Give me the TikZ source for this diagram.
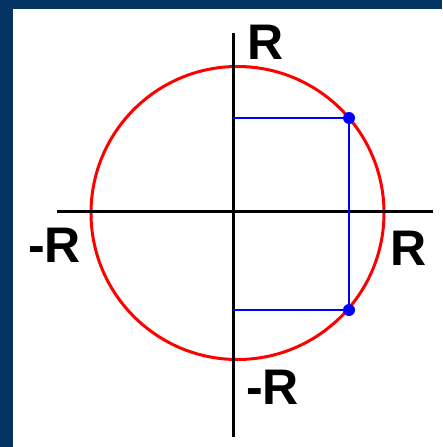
\documentclass[tikz,border=0pt]{standalone}
\usepackage{fontspec}
\setmainfont{Liberation Sans}
\usepackage{xcolor}
\usepackage{tikz}
\usetikzlibrary{positioning,calc}
\definecolor{frameblue}{RGB}{4,52,100}
\definecolor{circred}{RGB}{255,0,0}
\definecolor{projblue}{RGB}{0,0,255}

\begin{document}
\begin{tikzpicture}[x=1pt,y=-1pt,
    lbl/.style={inner sep=0pt,font=\fontsize{50}{52}\selectfont\bfseries},
    dot/.style={circle,fill=projblue,inner sep=0pt,minimum size=12pt},
    axis/.style={line width=3pt,black},
    proj/.style={projblue,line width=1.3pt}]
    % Frame
    \fill[frameblue] (0,0) rectangle (442,447);
    \fill[white] (13,9) rectangle (442,447);
    \useasboundingbox (0,0) rectangle (442,447);

    % Circle
    \coordinate (c) at (237.5,213);
    \draw[circred,line width=3pt] (c) circle (146.5pt);

    % Axes
    \coordinate (xl) at (57,211);
    \coordinate (xr) at (433,211);
    \coordinate (yt) at (233,33);
    \coordinate (yb) at (233,437);
    \draw[axis] (xl) -- (xr);
    \draw[axis] (yt) -- (yb);

    % Projections of the two points
    \coordinate (ht) at (233,118);
    \coordinate (hb) at (233,310);
    \coordinate (at) at (349,118);
    \coordinate (ab) at (349,310);
    \draw[proj] (ht) -- (at) -- (ab) -- (hb);
    \node[dot] (pt) at (at) {};
    \node[dot] (pb) at (ab) {};

    % Labels
    \node[lbl] (rtop) at (265.5,42) {R};
    \node[lbl] (rleft) at (54.5,245) {-R};
    \node[lbl] (rright) at (409,248) {R};
    \node[lbl] (rbot) at (272.5,387) {-R};
\end{tikzpicture}
\end{document}
